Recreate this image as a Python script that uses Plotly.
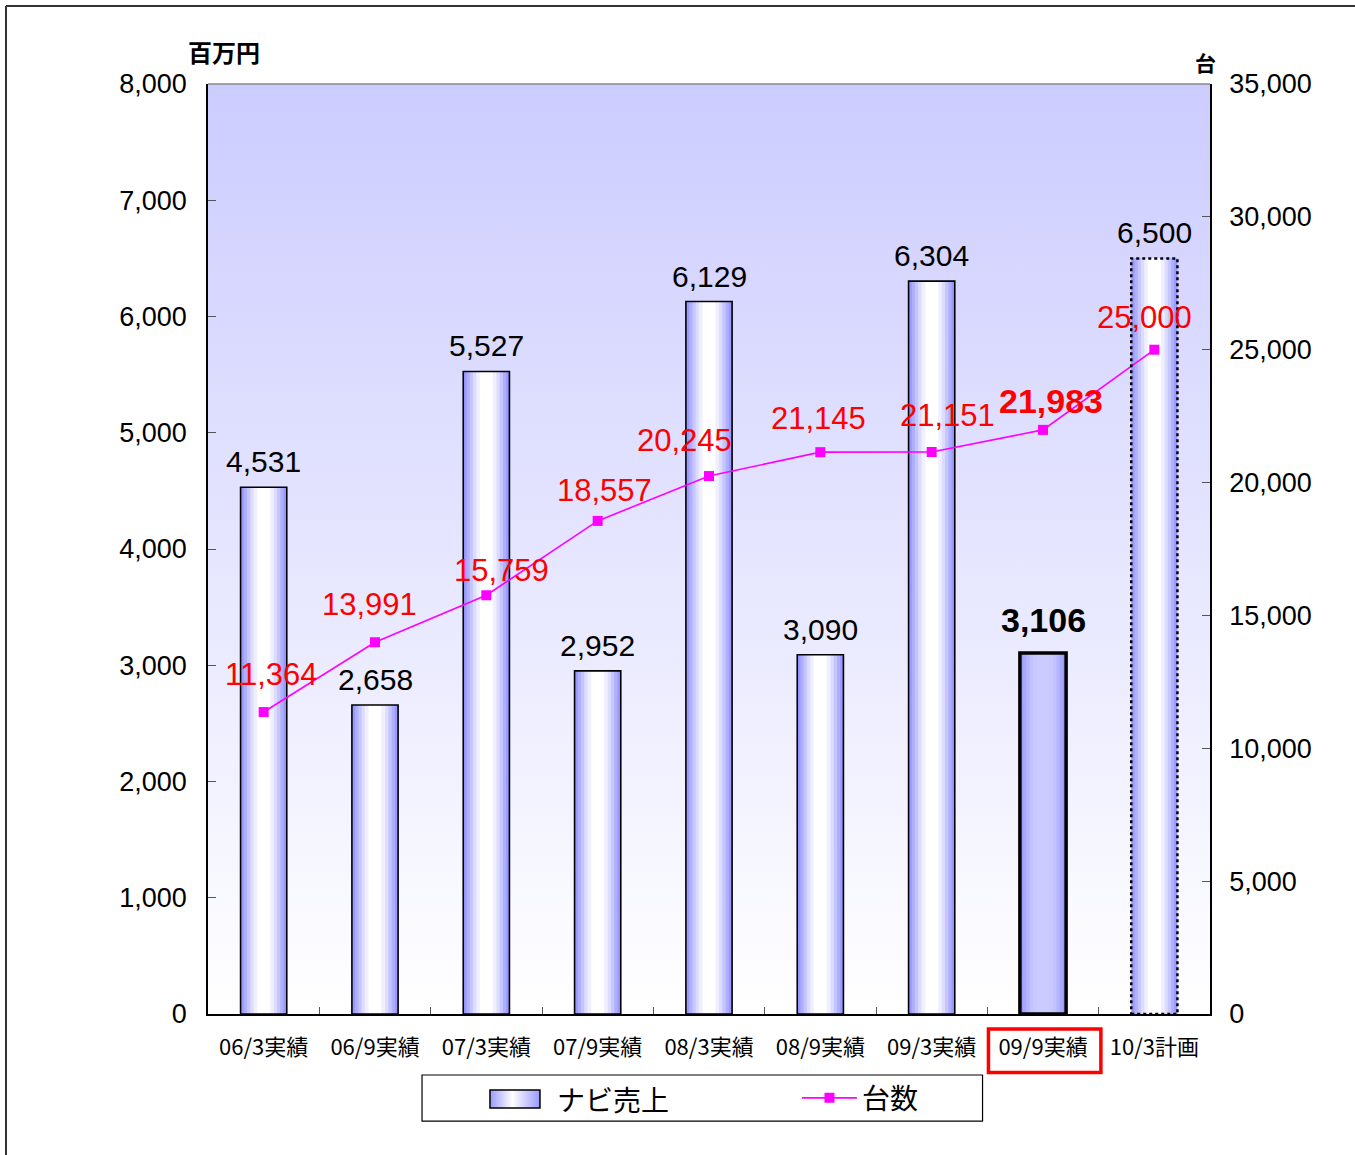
import base64
import plotly.graph_objects as go

# ---------------- data ----------------
categories = ["06/3実績", "06/9実績", "07/3実績", "07/9実績", "08/3実績",
              "08/9実績", "09/3実績", "09/9実績", "10/3計画"]
sales = [4531, 2658, 5527, 2952, 6129, 3090, 6304, 3106, 6500]      # 百万円
units = [11364, 13991, 15759, 18557, 20245, 21145, 21151, 21983, 25000]  # 台
left_ticks = [0, 1000, 2000, 3000, 4000, 5000, 6000, 7000, 8000]
right_ticks = [0, 5000, 10000, 15000, 20000, 25000, 30000, 35000]

HIGHLIGHT = 7   # 09/9実績
PLAN = 8        # 10/3計画

# ---------------- styles ----------------
BAR_W = 0.415
NUM_FONT = "Liberation Sans, Arial, sans-serif"
JP_FONT = "Noto Sans CJK JP, sans-serif"

# gradient layers (fraction of bar width, normal color, highlighted color)
layers = [
    (1.00, "#9999ff", "#9b9bff"),
    (0.86, "#afafff", "#a8a8ff"),
    (0.72, "#c6c6ff", "#b6b6ff"),
    (0.58, "#dcdcff", "#c2c2ff"),
    (0.44, "#efefff", "#c8c8ff"),
    (0.28, "#ffffff", "#cbcbff"),
]

# label offsets (px) for the unit labels
unit_dx = [8, -6, 15, 7, -25, -2, 16, 8, -10]
unit_dy = [38, 38, 25, 30, 36, 34, 36, 29, 32]

line_w = [1.6] * len(categories)
line_w[HIGHLIGHT] = 3.5
line_w[PLAN] = 0

fig = go.Figure()

for k, (frac, col, hcol) in enumerate(layers):
    colors = [hcol if i == HIGHLIGHT else col for i in range(len(categories))]
    fig.add_trace(go.Bar(
        x=categories, y=sales, width=BAR_W * frac, name="ナビ売上",
        marker=dict(color=colors, line=dict(width=0)),
        showlegend=False, hoverinfo="skip", yaxis="y",
    ))

# outline
fig.add_trace(go.Bar(
    x=categories, y=sales, width=BAR_W,
    marker=dict(color="rgba(0,0,0,0)", line=dict(color="black", width=line_w)),
    showlegend=False, hoverinfo="skip", yaxis="y",
))

# unit line
fig.add_trace(go.Scatter(
    x=categories, y=units, yaxis="y2", mode="lines+markers", name="台数",
    line=dict(color="#ff00ff", width=1.6),
    marker=dict(symbol="square", size=10, color="#ff00ff"),
    hoverinfo="skip",
))

annotations = []
# bar value labels
for i, (c, v) in enumerate(zip(categories, sales)):
    txt = f"{v:,}"
    size = 30
    shift = 7
    if i == HIGHLIGHT:
        txt = f"<b>{txt}</b>"
        size = 34
        shift = 12
    annotations.append(dict(
        x=c, y=v, xref="x", yref="y", text=txt, showarrow=False,
        yanchor="bottom", yshift=shift,
        font=dict(family=NUM_FONT, size=size, color="black"),
    ))
# unit labels
for i, (c, u) in enumerate(zip(categories, units)):
    txt = f"{u:,}"
    size = 31
    if i == HIGHLIGHT:
        txt = f"<b>{txt}</b>"
        size = 34
    annotations.append(dict(
        x=c, y=u, xref="x", yref="y2", text=txt, showarrow=False,
        xshift=unit_dx[i], yshift=unit_dy[i],
        font=dict(family=NUM_FONT, size=size, color="#ff0000"),
    ))

annotations += [
    dict(x=0.016, y=1.014, xref="paper", yref="paper", text="<b>百万円</b>",
         showarrow=False, xanchor="center", yanchor="bottom",
         font=dict(family=JP_FONT, size=24, color="black")),
    dict(x=0.996, y=1.005, xref="paper", yref="paper", text="<b>台</b>",
         showarrow=False, xanchor="center", yanchor="bottom",
         font=dict(family=JP_FONT, size=21, color="black")),
    # legend text for the bar series
    dict(x=0.3463, y=-0.0914, xref="paper", yref="paper", text="ナビ売上",
         showarrow=False, xanchor="left", yanchor="middle",
         font=dict(family=JP_FONT, size=28, color="black")),
]

shapes = [
    # dotted outline for plan bar
    dict(type="rect", xref="x", yref="y", x0=PLAN - BAR_W / 2, x1=PLAN + BAR_W / 2,
         y0=0, y1=sales[PLAN], line=dict(color="black", width=2.5, dash="dot"),
         fillcolor="rgba(0,0,0,0)", layer="above"),
    # red box around highlighted tick label
    dict(type="rect", xref="x", yref="paper", x0=HIGHLIGHT - 0.49, x1=HIGHLIGHT + 0.52,
         y0=-0.016, y1=-0.063, line=dict(color="#ff0000", width=3.5)),
    # top border of plot area
    dict(type="line", xref="paper", yref="paper", x0=0, x1=1, y0=1, y1=1,
         line=dict(color="#888888", width=1.5)),
    # legend box
    dict(type="rect", xref="paper", yref="paper", x0=0.2136, x1=0.773,
         y0=-0.0656, y1=-0.1151, line=dict(color="black", width=1.2),
         fillcolor="white", layer="below"),
    # legend bar-symbol border
    dict(type="rect", xref="paper", yref="paper", x0=0.2814, x1=0.3313,
         y0=-0.0817, y1=-0.1011, line=dict(color="black", width=1.5),
         fillcolor="rgba(0,0,0,0)", layer="above"),
    # outer frame (top and left)
    dict(type="line", xref="paper", yref="paper", x0=-0.2016, x1=1.15,
         y0=1.0839, y1=1.0839, line=dict(color="#333333", width=2)),
    dict(type="line", xref="paper", yref="paper", x0=-0.2016, x1=-0.2016,
         y0=1.0839, y1=-0.16, line=dict(color="#333333", width=2)),
]


def svg_uri(svg):
    return "data:image/svg+xml;base64," + base64.b64encode(svg.encode()).decode()


bg_svg = ('<svg xmlns="http://www.w3.org/2000/svg" width="100" height="100" '
          'preserveAspectRatio="none"><defs><linearGradient id="g" x1="0" y1="0" '
          'x2="0" y2="1"><stop offset="0" stop-color="#ccccff"/>'
          '<stop offset="1" stop-color="#ffffff"/></linearGradient></defs>'
          '<rect width="100" height="100" fill="url(#g)"/></svg>')
sym_svg = ('<svg xmlns="http://www.w3.org/2000/svg" width="100" height="100" '
           'preserveAspectRatio="none"><defs><linearGradient id="h" x1="0" y1="0" '
           'x2="1" y2="0"><stop offset="0" stop-color="#9999ff"/>'
           '<stop offset="0.45" stop-color="#ffffff"/>'
           '<stop offset="1" stop-color="#9999ff"/></linearGradient></defs>'
           '<rect width="100" height="100" fill="url(#h)"/></svg>')

fig.update_layout(
    width=1355, height=1155,
    margin=dict(l=208, r=145, t=84, b=141, pad=0),
    paper_bgcolor="white", plot_bgcolor="rgba(0,0,0,0)",
    barmode="overlay",
    showlegend=True,
    legend=dict(orientation="h", x=0.5878, y=-0.0905, xanchor="left", yanchor="middle",
                bgcolor="rgba(0,0,0,0)", borderwidth=0,
                font=dict(family=JP_FONT, size=28, color="black"),
                itemwidth=55,
                itemclick=False, itemdoubleclick=False),
    images=[
        dict(source=svg_uri(bg_svg), xref="paper", yref="paper", x=0, y=1,
             sizex=1, sizey=1, sizing="stretch", layer="below",
             xanchor="left", yanchor="top"),
        dict(source=svg_uri(sym_svg), xref="paper", yref="paper", x=0.2814, y=-0.0817,
             sizex=0.0499, sizey=0.0194, sizing="stretch", layer="above",
             xanchor="left", yanchor="top"),
    ],
    xaxis=dict(
        type="category", categoryorder="array", categoryarray=categories,
        showline=True, linecolor="black", linewidth=1.5,
        ticks="inside", tickson="boundaries", ticklen=7, tickcolor="#555555",
        ticklabelstandoff=13,
        tickfont=dict(family=JP_FONT, size=22, color="black"),
        showgrid=False, zeroline=False, range=[-0.5, len(categories) - 0.5],
    ),
    yaxis=dict(
        range=[0, 8000], tickvals=left_ticks, ticktext=[f"{v:,}" for v in left_ticks],
        showline=True, linecolor="black", linewidth=1.5,
        ticks="inside", ticklen=8, tickcolor="#555555",
        ticklabelstandoff=14,
        tickfont=dict(family=NUM_FONT, size=27, color="black"),
        showgrid=False, zeroline=False,
    ),
    yaxis2=dict(
        range=[0, 35000], tickvals=right_ticks, ticktext=[f"{v:,}" for v in right_ticks],
        overlaying="y", side="right",
        showline=True, linecolor="black", linewidth=1.5,
        ticks="inside", ticklen=8, tickcolor="#555555",
        ticklabelstandoff=12,
        tickfont=dict(family=NUM_FONT, size=27, color="black"),
        showgrid=False, zeroline=False,
    ),
    annotations=annotations,
    shapes=shapes,
)

fig.write_html("out.html")
